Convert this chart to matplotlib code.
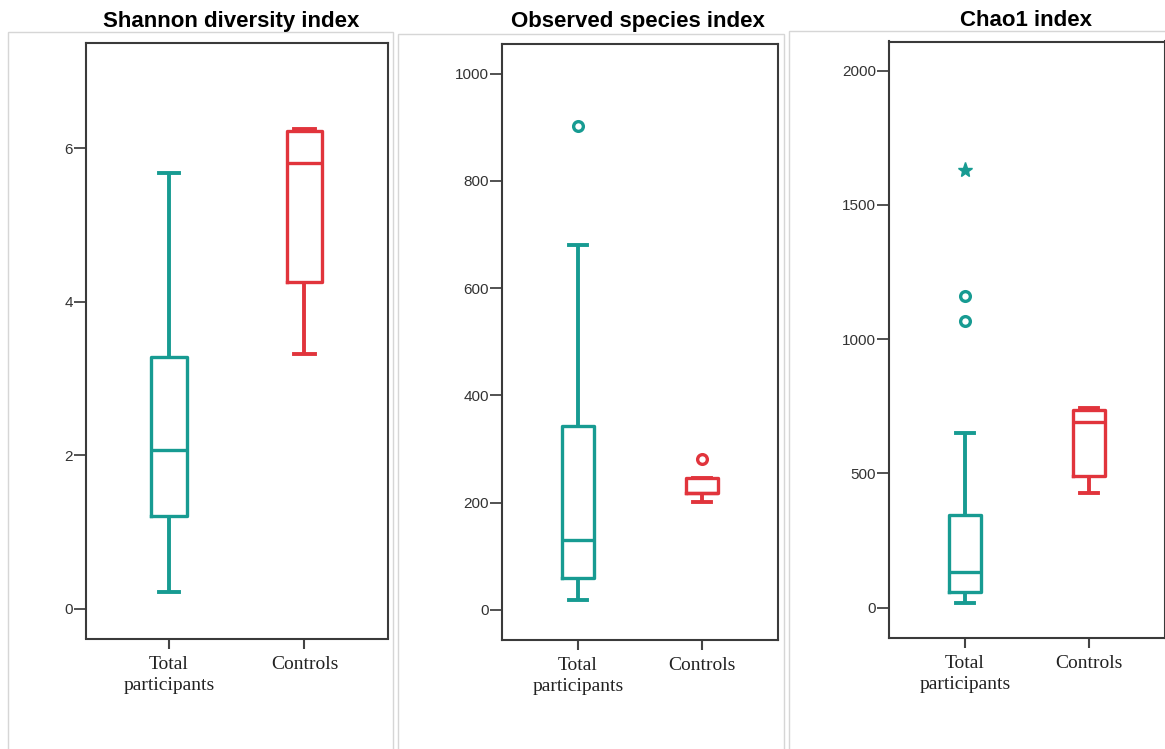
import numpy as np
import matplotlib
matplotlib.use("Agg")
import matplotlib.pyplot as plt
from matplotlib.patches import Rectangle

# ---- data ----
groups = ["Total\nparticipants", "Controls"]

shannon_whislo = [0.22, 3.32]
shannon_q1 = [1.21, 4.26]
shannon_med = [2.07, 5.81]
shannon_q3 = [3.28, 6.22]
shannon_whishi = [5.67, 6.25]
shannon_fliers = [[], []]

observed_whislo = [19, 201]
observed_q1 = [60, 218]
observed_med = [130, 218]
observed_q3 = [343, 246]
observed_whishi = [680, 246]
observed_fliers = [[902], [282]]

chao1_whislo = [16, 427]
chao1_q1 = [60, 490]
chao1_med = [133, 691]
chao1_q3 = [345, 734]
chao1_whishi = [652, 743]
chao1_fliers = [[1066, 1160], []]
chao1_extremes = [[1628], []]

TEAL = "#179b92"
RED = "#e1343c"
colors = [TEAL, RED]

W, H = 1165, 749


def px_axes(fig, left, right, top, bottom):
    return fig.add_axes([left / W, 1 - bottom / H, (right - left) / W, (bottom - top) / H])


def draw_panel(ax, whislo, q1, med, q3, whishi, fliers, ylim, yticks, extremes=None):
    for i in range(2):
        stats = [{"whislo": whislo[i], "q1": q1[i], "med": med[i], "q3": q3[i],
                  "whishi": whishi[i], "fliers": np.array(fliers[i])}]
        c = colors[i]
        ax.bxp(stats, positions=[i + 1], widths=0.26, capwidths=0.15,
               showfliers=True,
               boxprops=dict(color=c, linewidth=2.4),
               medianprops=dict(color=c, linewidth=2.4),
               whiskerprops=dict(color=c, linewidth=2.8, solid_capstyle="butt"),
               capprops=dict(color=c, linewidth=2.8),
               flierprops=dict(marker="o", markersize=7, markerfacecolor="white",
                               markeredgecolor=c, markeredgewidth=2.4))
        if extremes is not None and len(extremes[i]) > 0:
            ax.plot([i + 1] * len(extremes[i]), extremes[i], linestyle="none",
                    marker="*", markersize=11, color=c)
    ax.set_xlim(0.387, 2.613)
    ax.set_ylim(*ylim)
    ax.set_yticks(yticks)
    ax.set_xticks([1, 2])
    ax.set_xticklabels(groups, fontfamily="Liberation Serif", fontsize=14,
                       color="#222222", linespacing=1.3)
    for lab in ax.get_yticklabels():
        lab.set_fontfamily("Liberation Sans")
        lab.set_fontsize(11)
        lab.set_color("#333333")
    ax.tick_params(axis="y", length=9, width=1.3, color="#444444", pad=0.5)
    ax.tick_params(axis="x", length=7.5, width=1.5, color="#444444", pad=5)
    for sp in ax.spines.values():
        sp.set_linewidth(1.5)
        sp.set_color("#3a3a3a")


fig = plt.figure(figsize=(W / 100, H / 100), dpi=100)

# light grey panel frames
for left, right, top in [(7.5, 393, 32), (398, 784, 33.5), (789, 1170, 31)]:
    fig.patches.append(Rectangle((left / W, -0.05), (right - left) / W, 1.05 - top / H,
                                 transform=fig.transFigure, fill=False,
                                 edgecolor="#d6d6d6", linewidth=1.0))

ax1 = px_axes(fig, 86, 387.5, 43, 638.5)
draw_panel(ax1, shannon_whislo, shannon_q1, shannon_med, shannon_q3, shannon_whishi,
           shannon_fliers, (-0.39, 7.37), [0, 2, 4, 6])

ax2 = px_axes(fig, 502, 778, 44, 639.5)
draw_panel(ax2, observed_whislo, observed_q1, observed_med, observed_q3, observed_whishi,
           observed_fliers, (-55, 1055), [0, 200, 400, 600, 800, 1000])

ax3 = px_axes(fig, 889, 1165, 41.5, 637.7)
draw_panel(ax3, chao1_whislo, chao1_q1, chao1_med, chao1_q3, chao1_whishi,
           chao1_fliers, (-112, 2108), [0, 500, 1000, 1500, 2000], extremes=chao1_extremes)

for x, y, title in [(231.5, 21, "Shannon diversity index"),
                    (638, 22, "Observed species index"),
                    (1025.5, 20, "Chao1 index")]:
    fig.text(x / W, 1 - y / H, title, ha="center", va="center", fontsize=16,
             fontweight="bold", fontfamily="Liberation Sans")

fig.savefig("out.png", dpi=100)
